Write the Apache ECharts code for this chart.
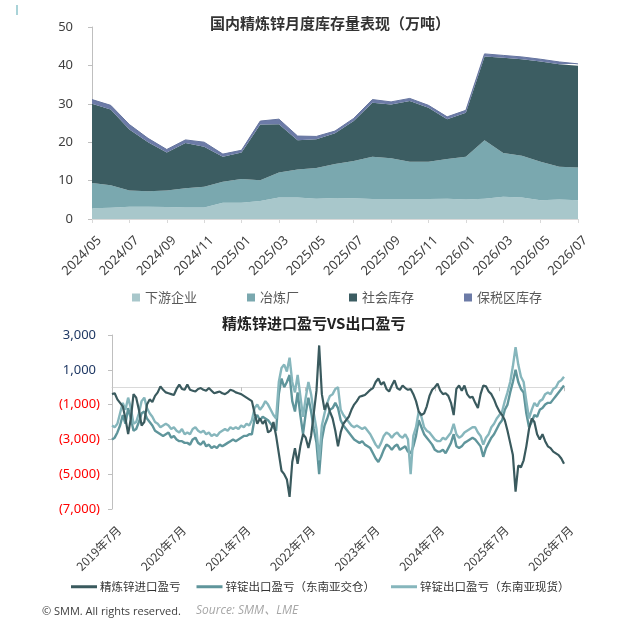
<!DOCTYPE html>
<html>
<head>
<meta charset="utf-8">
<script src="https://cdn.jsdelivr.net/npm/echarts@6/dist/echarts.min.js"></script>
<style>
html, body { margin: 0; padding: 0; background: #fff; }
#main { width: 622px; height: 634px; }
</style>
</head>
<body>
<div id="main"></div>
<script>
// 上图：月度库存（万吨）
var months = ['2024/05', '2024/06', '2024/07', '2024/08', '2024/09', '2024/10', '2024/11', '2024/12',
  '2025/01', '2025/02', '2025/03', '2025/04', '2025/05', '2025/06', '2025/07', '2025/08', '2025/09',
  '2025/10', '2025/11', '2025/12', '2026/01', '2026/02', '2026/03', '2026/04', '2026/05', '2026/06', '2026/07'];
var downstream = [2.8, 2.9, 3.2, 3.2, 3.1, 3.0, 3.0, 4.2, 4.2, 4.7, 5.6, 5.6, 5.3, 5.5, 5.4, 5.2, 5.2, 5.2, 5.2, 5.3, 5.1, 5.3, 5.8, 5.6, 4.9, 5.1, 4.9];
var smelter = [6.6, 5.9, 4.2, 4.0, 4.3, 5.0, 5.4, 5.5, 6.2, 5.4, 6.5, 7.3, 8.0, 8.8, 9.7, 11.0, 10.6, 9.7, 9.7, 10.3, 11.1, 15.2, 11.4, 10.9, 10.0, 8.5, 8.5];
var social = [20.6, 19.7, 15.9, 12.8, 9.9, 11.8, 10.4, 6.5, 6.9, 14.5, 12.6, 7.6, 7.5, 8.0, 10.4, 14.1, 14.0, 15.8, 14.1, 10.4, 11.5, 21.8, 24.8, 25.1, 26.1, 26.7, 26.5];
var bonded = [1.1, 1.1, 1.3, 1.0, 0.8, 0.8, 1.2, 0.7, 0.6, 0.9, 1.3, 1.1, 0.7, 0.6, 0.7, 0.8, 0.7, 0.7, 0.6, 0.6, 0.6, 0.7, 0.6, 0.6, 0.6, 0.6, 0.5];

// 下图：半月度盈亏（元/吨），2019-07-01 起
var importPL = [
  -400, -350, -700, -900, -1100, -1800, -2700, -1800, -400, -600, -1300, -2200, -2000, -1000, -700, -850,
  -500, -300, 50, -150, -300, -350, -400, -450, -100, 150, -100, -150, 150, -150, -200, -250,
  -100, -50, -150, -200, -50, -200, -350, -300, -250, -350, -400, -300, -150, -200, -300, -350,
  -400, -500, -600, -700, -800, -1500, -2100, -1800, -2100, -1900, -2600, -2500, -2000, -2800, -3800, -4800,
  -5000, -5300, -6300, -4300, -3500, -4400, -3400, -2700, -2900, -3500, -2800, -1500, -200, 2400, -400, -1300,
  -900, -1400, -1800, -2500, -3400, -2600, -2100, -1900, -1700, -1300, -1000, -800, -550, -500, -450, -300,
  -150, -50, 300, 500, 150, 300, -100, -250, 100, 400, -50, -150, 100, -50, -150, -100,
  -400, -800, -1400, -1600, -1500, -1100, -500, -150, 0, 200, -200, -400, -350, -500, -900, -1600,
  -100, 100, -200, 100, -400, -600, -550, -900, -1200, -400, 100, 50, -250, -400, -700, -1100,
  -1400, -1600, -1900, -2500, -3200, -3900, -6000, -4500, -4600, -4200, -3400, -2400, -1800, -2000, -2700, -3000,
  -2700, -3100, -3400, -3500, -3700, -3800, -3900, -4100, -4400
];
var exportWarehouse = [
  -3000, -2900, -2600, -2200, -1600, -2100, -1200, -1800, -2500, -2400, -2000, -1500, -1400, -1800, -2000, -2200,
  -2500, -2600, -2700, -2800, -2700, -2600, -2900, -2800, -3000, -3100, -3100, -3200, -3200, -3300, -3000, -2900,
  -3200, -3300, -3100, -3400, -3300, -3500, -3400, -3500, -3300, -3400, -3300, -3200, -3100, -3000, -3100, -3000,
  -2900, -2800, -2800, -2700, -2700, -1800, -1600, -1900, -1700, -1800, -1900, -2100, -2300, -2500, -400, 500,
  0, 300, 700, -800, -1400, -300, -1600, -2700, -1500, -600, -1400, -2400, -3200, -5000, -3000, -2200,
  -1800, -1300, -1200, -900, -1200, -1900, -2200, -2400, -2600, -2800, -3000, -3100, -3200, -3100, -3300, -3400,
  -3500, -3800, -4100, -4300, -4000, -3600, -3300, -3400, -3600, -3400, -3300, -3600, -3500, -3400, -3700, -3800,
  -3400, -2800, -1900, -2300, -2700, -2900, -3100, -3300, -3600, -3700, -3700, -3600, -3800, -3500, -3200, -2700,
  -3400, -3500, -3400, -3200, -3100, -3000, -2900, -3000, -3200, -3400, -4000, -3500, -3200, -2900, -2700, -2400,
  -2100, -1900, -1300, -1000, -300, 300, 1000, 300, -100, -300, -1500, -2300, -2000, -1600, -1700, -1300,
  -1200, -1000, -900, -900, -700, -500, -300, -100, 100
];
var exportSpot = [
  -2200, -2300, -2100, -1500, -900, -1300, -600, -1200, -2100, -2000, -1500, -800, -600, -1200, -1500, -1700,
  -2000, -2100, -2300, -2200, -2100, -2200, -2400, -2300, -2500, -2600, -2400, -2700, -2600, -2700, -2400, -2300,
  -2500, -2600, -2500, -2700, -2600, -2800, -2700, -2800, -2600, -2500, -2400, -2500, -2300, -2400, -2300, -2400,
  -2200, -2300, -2100, -2200, -1900, -1200, -1000, -1300, -1100, -800, -1000, -1300, -1600, -1800, 300, 1100,
  1300, 900, 1700, 300, -300, 700, -500, -1700, -600, 300, -400, -1500, -2400, -4200, -2200, -1500,
  -900, -500, -400, -100, 0, -1300, -1600, -1800, -2000, -2200, -2300, -2200, -2300, -2400, -2300, -2500,
  -2700, -3000, -3300, -3500, -3200, -2800, -2600, -2700, -2900, -2700, -2600, -2800, -2900, -2700, -3000, -5000,
  -2800, -2300, -1400, -1700, -2300, -2500, -2600, -2800, -3000, -3100, -3100, -2900, -3000, -2800, -2600, -2100,
  -2700, -2900, -2800, -2600, -2500, -2400, -2300, -2300, -2600, -2800, -3300, -2900, -2700, -2300, -2100, -1800,
  -1600, -1400, -800, -300, 300, 1200, 2300, 1300, 600, 300, -800, -1800, -1300, -900, -1100, -800,
  -700, -400, -300, -400, -100, 0, 300, 400, 600
];
var plTicks = ['3,000', '1,000', '(1,000)', '(3,000)', '(5,000)', '(7,000)'];

// 日期类目：每月1日和16日
var dates = [];
for (var k = 0; k < importPL.length; k++) {
  var mi = 6 + Math.floor(k / 2);
  var yy = 2019 + Math.floor(mi / 12);
  var mm = mi % 12 + 1;
  dates.push(yy + '-' + (mm < 10 ? '0' : '') + mm + (k % 2 ? '-16' : '-01'));
}

var font = "'Noto Sans', 'Noto Sans CJK SC', sans-serif";
var cjk = "'Noto Sans CJK SC', sans-serif";

var myChart = echarts.init(document.getElementById('main'));

var option = {
  backgroundColor: '#fff',
  animation: false,
  title: [
    {
      text: '国内精炼锌月度库存量表现（万吨）',
      left: 210, top: 16, padding: 0,
      textStyle: { fontSize: 15, fontWeight: 'bold', color: '#333', fontFamily: cjk }
    },
    {
      text: '精炼锌进口盈亏VS出口盈亏',
      left: 222, top: 316, padding: 0,
      textStyle: { fontSize: 15, fontWeight: 'bold', color: '#222', fontFamily: cjk }
    },
    {
      text: '© SMM. All rights reserved.',
      left: 42, top: 606, padding: 0,
      textStyle: { fontSize: 11, fontWeight: 'normal', color: '#404040', fontFamily: "'Open Sans', sans-serif" }
    },
    {
      text: 'Source: SMM、LME',
      left: 196, top: 605, padding: 0,
      textStyle: { fontSize: 12, fontWeight: 'normal', fontStyle: 'italic', color: '#a6a6a6', fontFamily: "'Open Sans', 'Noto Sans CJK SC', sans-serif" }
    }
  ],
  graphic: [
    { type: 'rect', shape: { x: 16, y: 5, width: 2, height: 10 }, style: { fill: '#a9d3d8' } }
  ],
  legend: [
    {
      data: ['下游企业', '冶炼厂', '社会库存', '保税区库存'],
      left: 127, top: 286,
      icon: 'rect', itemWidth: 8, itemHeight: 8, itemGap: 50,
      textStyle: { fontSize: 13, color: '#595959', fontFamily: cjk }
    },
    {
      data: ['精炼锌进口盈亏', '锌锭出口盈亏（东南亚交仓）', '锌锭出口盈亏（东南亚现货）'],
      left: 66, top: 576,
      icon: 'rect', itemWidth: 26, itemHeight: 3, itemGap: 16,
      textStyle: { fontSize: 11.5, color: '#333', fontFamily: cjk, padding: [0, 0, 0, -2] }
    }
  ],
  grid: [
    { left: 92, right: 44, top: 27, bottom: 415 },
    { left: 112, right: 58, top: 335, bottom: 125 }
  ],
  xAxis: [
    {
      type: 'category', gridIndex: 0, data: months, boundaryGap: false,
      axisLine: { lineStyle: { color: '#d9d9d9' } },
      axisTick: { interval: 1, length: 4, lineStyle: { color: '#d9d9d9' } },
      axisLabel: {
        interval: 1, rotate: 45, margin: 12, verticalAlign: 'top', padding: [4, 0, 0, 0],
        fontSize: 13, color: '#404040', fontFamily: font
      }
    },
    {
      type: 'category', gridIndex: 1, data: dates, boundaryGap: false, position: 'bottom',
      axisLine: { show: false, onZero: false },
      axisTick: { show: false },
      axisLabel: {
        interval: 23, rotate: 45, margin: 12, verticalAlign: 'top', padding: [4, 0, 0, 0],
        fontSize: 12, color: '#404040', fontFamily: cjk,
        formatter: function (v) {
          var p = v.split('-');
          return p[0] + '年' + parseInt(p[1], 10) + '月';
        }
      }
    },
    {
      type: 'category', gridIndex: 1, data: dates, boundaryGap: false, position: 'bottom',
      axisLine: { onZero: true, lineStyle: { color: '#d9d9d9' } },
      axisTick: { interval: 23, length: 4, lineStyle: { color: '#bfbfbf' } },
      axisLabel: { show: false }
    }
  ],
  yAxis: [
    {
      type: 'value', gridIndex: 0, min: 0, max: 50, interval: 10,
      axisLine: { show: true, lineStyle: { color: '#bfbfbf' } },
      axisTick: { show: true, length: 4, lineStyle: { color: '#bfbfbf' } },
      splitLine: { show: false },
      axisLabel: { margin: 19, fontSize: 13, color: '#404040', fontFamily: font }
    },
    {
      type: 'value', gridIndex: 1, min: -7000, max: 3000, interval: 2000,
      axisLine: { show: true, lineStyle: { color: '#bfbfbf' } },
      axisTick: { show: true, length: 4, lineStyle: { color: '#bfbfbf' } },
      splitLine: { show: false },
      axisLabel: {
        margin: 12, fontSize: 13, fontFamily: font,
        formatter: function (v) {
          var i = Math.round((3000 - v) / 2000);
          return v > 0 ? '{pos|' + plTicks[i] + '}' : '{neg|' + plTicks[i] + '}';
        },
        rich: {
          pos: { color: '#1f3864', fontSize: 13, fontFamily: font, padding: [0, 4, 0, 0] },
          neg: { color: '#ff0000', fontSize: 13, fontFamily: font }
        }
      }
    }
  ],
  series: [
    {
      name: '下游企业', type: 'line', stack: 'inv', xAxisIndex: 0, yAxisIndex: 0,
      data: downstream, symbol: 'none', lineStyle: { width: 0 },
      itemStyle: { color: '#a8c7cb' }, areaStyle: { color: '#a8c7cb', opacity: 1 }
    },
    {
      name: '冶炼厂', type: 'line', stack: 'inv', xAxisIndex: 0, yAxisIndex: 0,
      data: smelter, symbol: 'none', lineStyle: { width: 0 },
      itemStyle: { color: '#7aa8af' }, areaStyle: { color: '#7aa8af', opacity: 1 }
    },
    {
      name: '社会库存', type: 'line', stack: 'inv', xAxisIndex: 0, yAxisIndex: 0,
      data: social, symbol: 'none', lineStyle: { width: 0 },
      itemStyle: { color: '#3c5d62' }, areaStyle: { color: '#3c5d62', opacity: 1 }
    },
    {
      name: '保税区库存', type: 'line', stack: 'inv', xAxisIndex: 0, yAxisIndex: 0,
      data: bonded, symbol: 'none', lineStyle: { width: 1, color: '#65749f' },
      itemStyle: { color: '#6c7ba7' }, areaStyle: { color: '#6c7ba7', opacity: 1 }
    },
    {
      name: '锌锭出口盈亏（东南亚交仓）', type: 'line', xAxisIndex: 1, yAxisIndex: 1,
      data: exportWarehouse, symbol: 'none',
      lineStyle: { width: 2.4, color: '#5f959b' }, itemStyle: { color: '#5f959b' }
    },
    {
      name: '锌锭出口盈亏（东南亚现货）', type: 'line', xAxisIndex: 1, yAxisIndex: 1,
      data: exportSpot, symbol: 'none',
      lineStyle: { width: 2.4, color: '#86b6bc' }, itemStyle: { color: '#86b6bc' }
    },
    {
      name: '精炼锌进口盈亏', type: 'line', xAxisIndex: 1, yAxisIndex: 1,
      data: importPL, symbol: 'none', z: 3,
      lineStyle: { width: 2.2, color: '#3a5a5e' }, itemStyle: { color: '#3a5a5e' }
    }
  ]
};

myChart.setOption(option);
</script>
</body>
</html>
